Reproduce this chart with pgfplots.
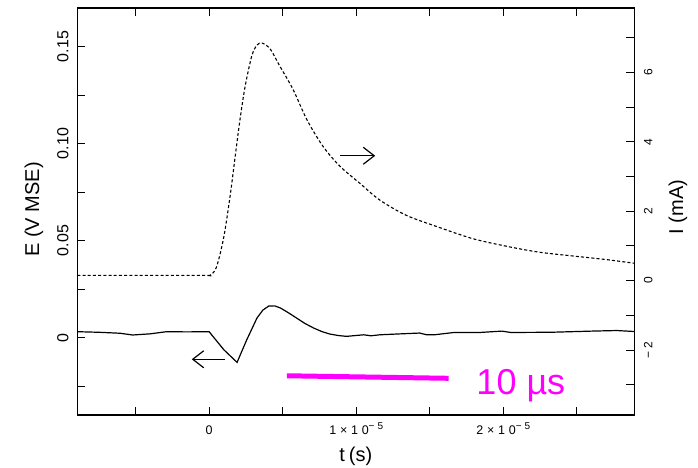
\documentclass[border=0pt]{standalone}
\usepackage{pgfplots}
\pgfplotsset{compat=1.18}
\usepackage{fontspec}
\setmainfont{Liberation Sans}
\newfontfamily\widefont[LetterSpace=30]{Liberation Sans}
\usetikzlibrary{arrows.meta}
\definecolor{scalebar}{RGB}{255,0,255}
\newcommand{\supm}[1]{\raisebox{5pt}{\fontsize{10}{10}\selectfont #1}}

\begin{document}
\begin{tikzpicture}
\pgfplotsset{
  common/.style={
    scale only axis, width=557pt, height=407pt,
    xmin=-8.96e-6, xmax=28.9e-6,
    scaled x ticks=false, scaled y ticks=false,
    tick align=inside, major tick length=8pt, minor tick length=8pt,
    tick style={black, line width=0.9pt},
    axis line style={line width=1.1pt},
  }
}
% left axis: potential E
\begin{axis}[common,
  ymin=-0.0398, ymax=0.1698,
  xtick pos=both, ytick pos=left,
  xtick={0,1e-5,2e-5}, minor xtick={-5e-6,5e-6,1.5e-5,2.5e-5},
  xticklabels={\mbox{0}, \mbox{1×10\supm{−5}}, \mbox{2×10\supm{−5}}},
  xticklabel style={font=\widefont\fontsize{12.5}{12.5}\selectfont, anchor=base, inner sep=0pt},
  xticklabel shift=19.5pt,
  ytick={0,0.05,0.1,0.15}, minor ytick={-0.025,0.025,0.075,0.125},
  yticklabels={\mbox{0},\mbox{0.05},\mbox{0.10},\mbox{0.15}},
  yticklabel style={font=\fontsize{16}{16}\selectfont, rotate=90, anchor=base, inner sep=0pt},
  yticklabel shift=9pt,
  xlabel={t\hspace{4pt}(s)},
  xlabel style={font=\fontsize{20}{20}\selectfont, at={(axis description cs:0.5,0)}, anchor=center, yshift=-41pt},
  ylabel={E (V MSE)},
  ylabel style={font=\fontsize{20}{20}\selectfont, at={(axis description cs:-0.0777,0.505)}, anchor=center},
]
\addplot[black, line width=1.2pt] coordinates {
  (-8.96e-6,0.0031) (-7.5e-6,0.0028) (-6.05e-6,0.0023) (-5.2e-6,0.0014)
  (-4.0e-6,0.0020) (-2.9e-6,0.0031) (-1.5e-6,0.0030) (0.0,0.0031)
  (1.0e-6,-0.0062) (1.9e-6,-0.0127) (2.55e-6,-0.0012) (3.25e-6,0.0101)
  (3.65e-6,0.0142) (4.05e-6,0.0163) (4.45e-6,0.0164) (4.85e-6,0.0153)
  (5.4e-6,0.0128) (5.95e-6,0.0101) (6.5e-6,0.0074) (7.1e-6,0.0050)
  (7.65e-6,0.0032) (8.2e-6,0.0019) (8.8e-6,0.0011) (9.35e-6,0.0007)
  (10.5e-6,0.0015) (11.0e-6,0.0010) (11.6e-6,0.0015) (12.75e-6,0.0019)
  (14.3e-6,0.0024) (14.8e-6,0.0015) (15.3e-6,0.0015) (16.65e-6,0.0027)
  (18.4e-6,0.0027) (19.9e-6,0.0034) (20.5e-6,0.0027) (23.2e-6,0.0028)
  (26.0e-6,0.0034) (27.7e-6,0.0037) (28.9e-6,0.0032)
};
% arrows telling which axis each curve belongs to
\draw[line width=1.2pt, -{Straight Barb[length=11pt,width=17pt]}]
  (axis cs:8.91e-6,0.0937) -- (axis cs:11.29e-6,0.0937);
\draw[line width=1.2pt, -{Straight Barb[length=11pt,width=17pt]}]
  (axis cs:1.09e-6,-0.0111) -- (axis cs:-1.18e-6,-0.0111);
% scale bar
\draw[scalebar, line width=5pt] (axis cs:5.29e-6,-0.0196) -- (axis cs:16.28e-6,-0.0209);
\node[scalebar, anchor=base west, inner sep=0pt, font=\fontsize{36}{36}\selectfont]
  at (axis cs:18.16e-6,-0.0292) {10 µs};
\end{axis}
% right axis: current I
\begin{axis}[common,
  ymin=-3.87, ymax=7.85,
  axis x line=none, axis y line*=right,
  ytick={-2,0,2,4,6}, minor ytick={-3,-1,1,3,5,7},
  yticklabels={\mbox{−\hspace{3pt}2},\mbox{0},\mbox{2},\mbox{4},\mbox{6}},
  yticklabel style={font=\fontsize{12}{12}\selectfont, rotate=90, anchor=base, inner sep=0pt},
  yticklabel shift=18pt,
  ylabel={I (mA)},
  ylabel style={font=\fontsize{20}{20}\selectfont, at={(axis description cs:1.0785,0.511)}, anchor=center},
]
\addplot[black, line width=1.1pt, dash pattern=on 3pt off 2.2pt, smooth, tension=0.5] coordinates {
  (-8.96e-6,0.15) (-0.5e-6,0.15) (0.05e-6,0.15) (0.5e-6,0.39) (1.0e-6,1.26)
  (1.45e-6,2.51) (1.8e-6,3.67) (2.1e-6,4.64) (2.45e-6,5.60) (2.9e-6,6.47)
  (3.25e-6,6.78) (3.6e-6,6.84) (4.15e-6,6.67) (4.8e-6,6.18) (5.7e-6,5.51)
  (6.65e-6,4.63) (7.75e-6,3.86) (8.9e-6,3.29) (10.25e-6,2.80) (11.6e-6,2.32)
  (13.4e-6,1.88) (15.65e-6,1.53) (17.9e-6,1.21) (20.2e-6,0.99) (22.4e-6,0.82)
  (24.7e-6,0.71) (26.9e-6,0.61) (28.9e-6,0.50)
};
\end{axis}
\pgfresetboundingbox
\path (-77.3pt,-53pt) rectangle (620.7pt,415pt);
\end{tikzpicture}
\end{document}
